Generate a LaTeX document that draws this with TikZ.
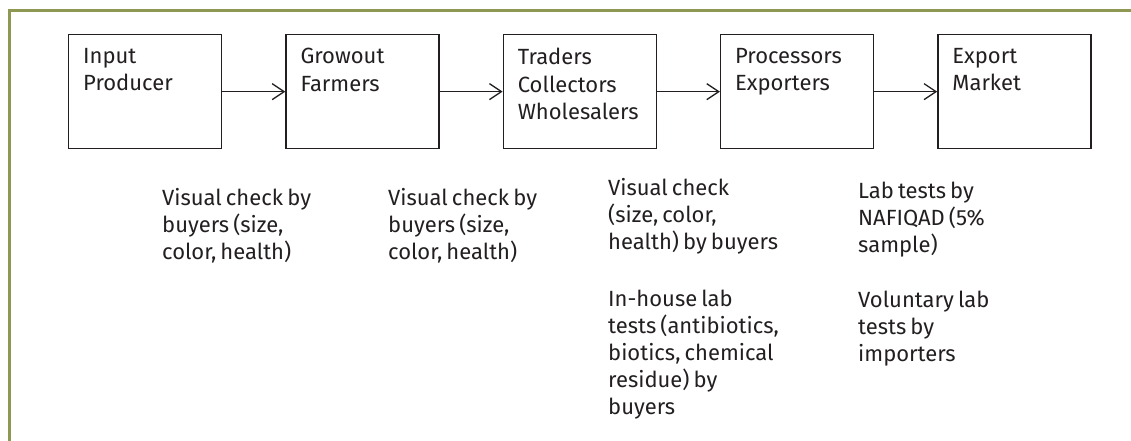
\documentclass[tikz,border=0pt]{standalone}
\usepackage{fontspec}
\setmainfont[WordSpace=0.7]{Fira Sans}
\usetikzlibrary{arrows.meta}
\usetikzlibrary{positioning}
\definecolor{framegreen}{RGB}{142,152,82}
\definecolor{inkgray}{RGB}{35,31,32}
\tikzset{>={Straight Barb[length=12pt,width=16pt]}}

\begin{document}
\begin{tikzpicture}[x=1pt,y=-1pt,node distance=63pt,
    stage/.style={draw=inkgray,line width=1.3pt,minimum width=153pt,
      minimum height=114pt,inner sep=0pt},
    stagetext/.style={anchor=north west,align=left,inner sep=0pt,
      text=inkgray,font=\fontsize{22}{27.5}\selectfont},
    check/.style={anchor=north west,align=left,inner sep=0pt,
      text=inkgray,font=\fontsize{22}{27}\selectfont}]
  \useasboundingbox (0,0) rectangle (1131,441);
  % frame on top and left
  \draw [framegreen,line width=3pt] (9,441) -- (9,11) -- (1131,11);

  % the chain of stages
  \node [stage,anchor=north west] (input) at (68,34) {};
  \node [stage,right=of input] (growout) {};
  \node [stage,right=of growout] (traders) {};
  \node [stage,right=of traders] (processors) {};
  \node [stage,right=of processors] (market) {};
  \foreach \a/\b in {input/growout,growout/traders,traders/processors,processors/market}
    \draw [->,inkgray,line width=1.3pt] (\a) -- (\b);

  \node [stagetext] (inputtxt) at ([shift={(15,14)}]input.north west) {Input\\Producer};
  \node [stagetext] (growouttxt) at ([shift={(15,14)}]growout.north west) {Growout\\Farmers};
  \node [stagetext] (traderstxt) at ([shift={(15,14)}]traders.north west) {Traders\\Collectors\\Wholesalers};
  \node [stagetext] (processorstxt) at ([shift={(15,14)}]processors.north west) {Processors\\Exporters};
  \node [stagetext] (markettxt) at ([shift={(15,14)}]market.north west) {Export\\Market};

  % checks done at each stage
  \node [check] (inputcheck) at (162,188) {Visual check by\\buyers (size,\\color, health)};
  \node [check] (growoutcheck) at (388,188) {Visual check by\\buyers (size,\\color, health)};
  \node [check] (traderscheck) at (608,178) {Visual check\\(size, color,\\health) by buyers};
  \node [check] (traderslab) at (608,290) {In-house lab\\tests (antibiotics,\\biotics, chemical\\residue) by\\buyers};
  \node [check] (exportcheck) at (858,182) {Lab tests by\\NAFIQAD (5\%\\sample)};
  \node [check] (exportlab) at (858,291) {Voluntary lab\\tests by\\importers};
\end{tikzpicture}
\end{document}
